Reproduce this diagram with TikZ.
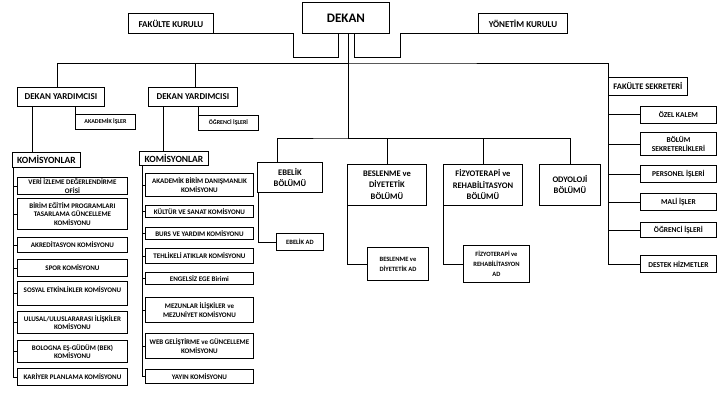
\documentclass[tikz,border=0pt]{standalone}
\usepackage{fontspec}
\setmainfont{Carlito}
\usetikzlibrary{calc}

\begin{document}
\begin{tikzpicture}[x=1pt, y=-1pt, line width=0.9pt,
    box/.style={draw, anchor=north west, inner sep=1pt, align=center},
    sz/.style 2 args={font=\bfseries\fontsize{#1}{#2}\selectfont},
    wh/.style 2 args={minimum width=#1, minimum height=#2}]
  \useasboundingbox (0,0) rectangle (717,393);
  \node[box, sz={13}{15}, wh={87}{31}] (dekan) at (302,2) {DEKAN};
  \node[box, sz={9}{11}, wh={85}{20}] (fk) at (128,13) {FAKÜLTE KURULU};
  \node[box, sz={9}{11}, wh={89}{20}] (yk) at (478,13) {YÖNETİM KURULU};
  \node[box, sz={9}{11}, wh={87}{19}] (dy1) at (17,87) {DEKAN YARDIMCISI};
  \node[box, sz={9}{11}, wh={89}{19}] (dy2) at (148,87) {DEKAN YARDIMCISI};
  \node[box, sz={6}{7}, wh={60}{15}] (akad) at (75,114) {AKADEMİK İŞLER};
  \node[box, sz={6}{7}, wh={60}{15}] (ogr) at (198,115) {ÖĞRENCİ İŞLERİ};
  \node[box, sz={9.5}{11}, wh={68}{15}] (komA) at (12,152) {KOMİSYONLAR};
  \node[box, sz={9.5}{11}, wh={69}{14}] (komB) at (139,151) {KOMİSYONLAR};
  \node[box, sz={8.5}{11}, wh={65}{30}] (ebelik) at (257,162) {EBELİK\\BÖLÜMÜ};
  \node[box, sz={8.5}{11.5}, wh={79}{41}] (bes) at (347,164) {BESLENME ve\\DİYETETİK\\BÖLÜMÜ};
  \node[box, sz={8.5}{11.5}, wh={79}{41}] (fiz) at (443,164) {FİZYOTERAPİ ve\\REHABİLİTASYON\\BÖLÜMÜ};
  \node[box, sz={8.5}{11}, wh={61}{41}] (ody) at (539,164) {ODYOLOJİ\\BÖLÜMÜ};
  \node[box, sz={6.5}{8}, wh={47}{17}] (ebad) at (276,233) {EBELİK AD};
  \node[box, sz={6.5}{10}, wh={61}{33}] (besad) at (367,247) {BESLENME ve\\DİYETETİK AD};
  \node[box, sz={6.5}{10}, wh={66}{37}] (fizad) at (463,245) {FİZYOTERAPİ ve\\REHABİLİTASYON\\AD};
  \node[box, sz={8.5}{10}, wh={79}{18}] (fs) at (608,77) {FAKÜLTE SEKRETERİ};

  \coordinate (bus1) at (348,63);
  \coordinate (bus2) at (348,138);
  \draw (fk.south east) -| (293,57) -| ($(dekan.south west)+(36,0)$);
  \draw (yk.south west) -| (400,57) -| ($(dekan.south west)+(52,0)$);
  \draw ($(dekan.south west)+(46,0)$) -- (bus2);
  \draw ($(dy1.north)+(-4,0)$) |- (bus1);
  \draw ($(dy2.north)+(2,0)$) |- (bus1) -| (fs.north west);
  \draw (akad.north west) -- (akad.north west |- dy1.south);
  \draw (ogr.north west) -- (ogr.north west |- dy2.south);
  \draw ($(dy1.south west)+(15,0)$) coordinate (a) -- (a |- komA.north);
  \draw ($(dy2.south west)+(15,0)$) coordinate (b) -- (b |- komB.north);
  \draw ($(ebelik.north west)+(20,0)$) |- (bus2) -| (ody.north);
  \draw (bes.north) |- (bus2);
  \draw (fiz.north) |- (bus2);
  \draw ($(ebelik.south west)+(1,0)$) |- (ebad.west);
  \draw (bes.south west) |- (besad.west);
  \draw (fiz.south west) |- (fizad.west);

  \coordinate (ka) at ($(komA.south west)+(1,0)$);
  \foreach \n/\y/\h/\txt in {1/177/17/{VERİ İZLEME DEĞERLENDİRME\\OFİSİ},
      2/198/31/{BİRİM EĞİTİM PROGRAMLARI\\TASARLAMA GÜNCELLEME\\KOMİSYONU},
      3/237/15/{AKREDİTASYON KOMİSYONU}, 4/259/17/{SPOR KOMİSYONU},
      5/281/24/{SOSYAL ETKİNLİKLER KOMİSYONU\\\mbox{}},
      6/311/22/{ULUSAL/ULUSLARARASI İLİŞKİLER\\KOMİSYONU},
      7/340/22/{BOLOGNA EŞ-GÜDÜM (BEK)\\KOMİSYONU},
      8/368/17/{KARİYER PLANLAMA KOMİSYONU}}{
    \node[box, sz={7}{8.5}, wh={110}{\h}] (ka\n) at (17,\y) {\txt};
    \draw (ka) |- (ka\n.west);
  }
  \coordinate (kb) at ($(komB.south west)+(3,0)$);
  \foreach \n/\y/\h/\txt in {1/173/23/{AKADEMİK BİRİM DANIŞMANLIK\\KOMİSYONU},
      2/205/12/{KÜLTÜR VE SANAT KOMİSYONU}, 3/227/12/{BURS VE YARDIM KOMİSYONU},
      4/248/15/{TEHLİKELİ ATIKLAR KOMİSYONU}, 5/272/12/{ENGELSİZ EGE Birimi},
      6/297/25/{MEZUNLAR İLİŞKİLER ve\\MEZUNİYET KOMİSYONU},
      7/333/25/{WEB GELİŞTİRME ve GÜNCELLEME\\KOMİSYONU},
      8/369/14/{YAYIN KOMİSYONU}}{
    \node[box, sz={7}{8.5}, wh={108}{\h}] (kb\n) at (145,\y) {\txt};
    \draw (kb) |- (kb\n.west);
  }
  \foreach \n/\y/\h/\txt in {1/106/17/{ÖZEL KALEM}, 2/132/23/{BÖLÜM\\SEKRETERLİKLERİ},
      3/165/17/{PERSONEL İŞLERİ}, 4/193/17/{MALİ İŞLER},
      5/222/15/{ÖĞRENCİ İŞLERİ}, 6/255/17/{DESTEK HİZMETLER}}{
    \node[box, sz={7.5}{9}, wh={76}{\h}] (sk\n) at (640,\y) {\txt};
    \draw (fs.south west) |- (sk\n.west);
  }
\end{tikzpicture}
\end{document}
